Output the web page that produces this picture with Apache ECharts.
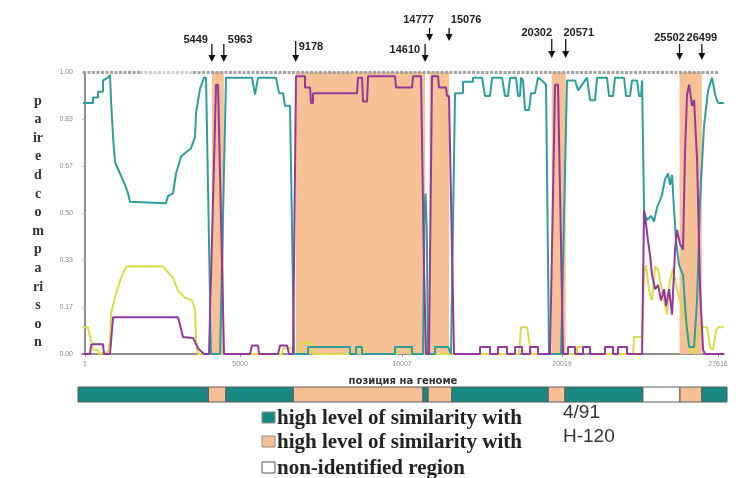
<!DOCTYPE html>
<html><head><meta charset="utf-8">
<script src="https://cdn.jsdelivr.net/npm/echarts@6/dist/echarts.min.js"></script>
<style>html,body{margin:0;padding:0;background:#fff}#c{width:754px;height:478px}</style>
</head><body><div id="c"></div>
<script>
// ---------- data ----------
const xTickPos = [0, 6659, 13618, 20492, 27193];
const xTickLabels = ['1', '5000', '10007', '20019', '27616'];

const breakpointLabels = ['5449','5963','9178','14610','14777','15076','20302','20571','25502','26499'];
const breakpointPos = [5449, 5963, 9050, 14610, 14800, 15640, 20050, 20650, 25540, 26499];

const tealData = [[-90,0.89],[344,0.89],[344,0.91],[558,0.91],[558,0.93],[773,0.93],[773,0.97],[988,0.98],[1074,0.99],[1117,0.90],[1203,0.77],[1289,0.68],[1504,0.64],[1718,0.60],[1847,0.57],[1933,0.54],[3480,0.535],[3566,0.56],[3780,0.57],[3909,0.64],[4124,0.70],[4554,0.73],[4726,0.77],[4769,0.855],[4940,0.94],[5112,0.98],[5198,0.98],[5413,0],[5800,0],[6057,0.98],[7174,0.98],[7303,0.92],[7432,0.98],[8205,0.98],[8334,0.925],[8506,0.925],[8592,0.88],[8807,0.88],[8979,0],[9580,0],[9580,0.025],[11384,0.025],[11384,0],[11642,0],[11642,0.025],[11900,0.025],[11900,0],[13318,0],[13318,0.025],[14048,0.025],[14048,0],[14520,0],[14585,0.52],[14628,0.57],[14680,0.45],[14735,0],[15036,0],[15036,0.025],[15594,0.025],[15723,0],[15766,0],[15895,0.925],[16239,0.925],[16239,0.965],[16668,0.965],[16668,0.98],[17055,0.98],[17184,0.915],[17399,0.915],[17485,0.98],[17914,0.98],[18043,0.915],[18172,0.915],[18258,0.98],[18516,0.98],[18602,0.915],[18688,0.915],[18731,0.98],[18817,0.97],[18903,0.865],[19074,0.865],[19160,0.925],[19332,0.925],[19461,0.98],[19633,0.97],[19805,0.955],[19934,0],[20449,0],[20706,0.97],[21050,0.97],[21179,0.935],[21566,0.98],[21695,0.90],[21910,0.90],[21996,0.98],[22425,0.98],[22511,0.915],[22683,0.915],[22769,0.98],[23156,0.98],[23242,0.915],[23414,0.915],[23500,0.97],[23715,0.97],[23801,0.915],[23887,0.915],[23930,0.97],[24016,0.50],[24145,0.475],[24317,0.49],[24446,0.47],[24573,0.52],[24702,0.545],[24788,0.565],[24917,0.62],[25046,0.64],[25132,0.60],[25218,0.635],[25304,0.51],[25390,0.40],[25519,0.315],[25691,0.28],[25820,0.12],[25949,0.025],[26164,0.025],[26293,0.19],[26422,0.545],[26594,0.81],[26766,0.935],[26938,0.98],[27066,0.92],[27195,0.89],[27440,0.89]];

const purpleData = [[-90,0],[215,0],[258,0.03],[344,0.035],[773,0.035],[816,0],[1074,0],[1203,0.13],[3995,0.13],[4210,0.06],[4640,0.057],[4855,0.02],[5112,0],[5327,0],[5627,0.955],[5714,0.955],[5971,0],[7088,0],[7174,0.03],[7432,0.03],[7475,0],[8291,0],[8377,0.03],[8678,0.03],[8764,0],[8936,0],[9064,0.985],[9451,0.985],[9451,0.945],[9666,0.945],[9709,0.89],[9795,0.89],[9795,0.925],[11685,0.925],[11728,0.98],[11900,0.98],[11943,0.895],[12115,0.895],[12158,0.985],[13318,0.985],[13361,0.945],[14048,0.945],[14091,0.985],[14434,0.985],[14563,0.30],[14649,0],[14777,0],[14906,0.985],[15164,0.985],[15207,0.945],[15508,0.945],[15551,0.915],[15637,0.915],[15852,0],[16969,0],[16969,0.025],[17399,0.025],[17399,0],[17742,0],[17742,0.025],[18129,0.025],[18129,0],[18473,0],[18473,0.025],[18774,0.025],[18774,0],[19117,0],[19117,0.025],[19461,0.025],[19461,0],[19977,0],[20191,0.955],[20320,0.955],[20535,0],[20750,0],[20750,0.025],[21050,0.025],[21050,0],[21394,0],[21394,0.025],[21695,0.025],[21695,0],[22339,0],[22339,0.025],[22683,0.025],[22683,0],[22898,0],[22898,0.025],[23285,0.025],[23285,0],[23930,0],[24016,0.51],[24102,0.46],[24188,0.40],[24274,0.35],[24360,0.28],[24489,0.23],[24617,0.245],[24745,0.19],[24874,0.23],[24960,0.17],[25089,0.23],[25218,0.14],[25347,0.37],[25433,0.44],[25562,0.39],[25691,0.37],[25777,0.72],[25863,0.92],[25949,0.955],[26078,0.88],[26164,0.90],[26293,0.69],[26422,0.23],[26551,0.015],[26637,0],[27440,0]];

const yellowData = [[-90,0.095],[129,0.095],[215,0.06],[344,0.015],[558,0.015],[601,0],[988,0.007],[1074,0.05],[1117,0.145],[1332,0.215],[1547,0.27],[1761,0.31],[3351,0.31],[3566,0.29],[3780,0.27],[3995,0.225],[4296,0.20],[4597,0.19],[4726,0.155],[4769,0.05],[4855,0],[8463,0],[8506,0.02],[8893,0.02],[8936,0],[9236,0],[9279,0.04],[9752,0.04],[9795,0],[11642,0],[11685,0.025],[11943,0.025],[11986,0],[13404,0],[13447,0.025],[13962,0.025],[14005,0],[18645,0],[18731,0.095],[18989,0.095],[19117,0.025],[19160,0],[21136,0],[21136,0.025],[21695,0.025],[21695,0],[23543,0],[23586,0.06],[23930,0.06],[24016,0.29],[24102,0.315],[24231,0.225],[24360,0.19],[24489,0.31],[24617,0.30],[24745,0.245],[24874,0.19],[25003,0.14],[25132,0.26],[25261,0.305],[25390,0.245],[25562,0.19],[25691,0.155],[25863,0.075],[25992,0.015],[26207,0],[26336,0.05],[26422,0.095],[26723,0.095],[26852,0.025],[26981,0.015],[27109,0.085],[27195,0.095],[27440,0.095]];

// genome bar segments: [start, end, kind] kind 0 = 4/91, 1 = H-120, 2 = non-identified
const barSegments = [[-301,5300,0],[5300,6050,1],[6050,8950,0],[8950,14520,1],[14520,14740,0],[14740,15760,1],[15760,19900,0],[19900,20620,1],[20620,23970,0],[23970,25560,2],[25560,26500,1],[26500,27580,0]];

const legendNames = ['high level of similarity with', 'high level of similarity with', 'non-identified region'];
const legendStrains = ['4/91', 'H-120', ''];
const yAxisLetters = ['p','a','ir','e','d','c','o','m','p','a','ri','s','o','n'];
const xAxisTitle = 'позиция на геноме';
const topStrip = [[-86, 2360, 0], [2360, 4640, 1], [4640, 27195, 0]];
const annotation = { pos: 10826, val: 0.965, text: '1.902 1.50', sup: '-06' };

// ---------- styles ----------
const TEAL = '#2f9e9b', PURPLE = '#93399e', YELLOW = '#d9da4c', ORANGE = '#f7c196';
const BAR_COLORS = ['#1b8783', '#f6c097', '#ffffff'];
const LEG_COLORS = ['#1b8783', '#f6c097', '#ffffff'];
const arrowStyle = [
  {ty:40, top:44, bot:62, dx:-4, align:'right'},
  {ty:40, top:44, bot:62, dx:4, align:'left'},
  {ty:47, top:41, bot:62, dx:3, align:'left'},
  {ty:50, top:44, bot:62, dx:-5, align:'right'},
  {ty:20, top:28, bot:41, dx:-11, align:'center'},
  {ty:20, top:28, bot:41, dx:17, align:'center'},
  {ty:33, top:39, bot:58, dx:-15, align:'center'},
  {ty:33, top:39, bot:58, dx:13, align:'center'},
  {ty:38, top:44, bot:60, dx:-10, align:'center'},
  {ty:38, top:44, bot:60, dx:0, align:'center'}
];

const chart = echarts.init(document.getElementById('c'), null, {renderer: 'canvas'});

const bands = [];
for (let i = 0; i < breakpointPos.length; i += 2) bands.push([{xAxis: breakpointPos[i]}, {xAxis: breakpointPos[i + 1]}]);

const stripLines = topStrip.map(s => [
  {coord: [s[0], 1], lineStyle: {color: s[2] ? '#cfcfcf' : '#a3a3a3', width: 3, type: [3, 1.5]}},
  {coord: [s[1], 1]}
]);

const lineBase = {type: 'line', showSymbol: false, symbol: 'none', animation: false, xAxisIndex: 0, yAxisIndex: 0, z: 2};

chart.setOption({
  animation: false,
  grid: [
    {left: 82, right: 30, top: 72, bottom: 124},
    {left: 78, right: 27, top: 387, height: 15}
  ],
  xAxis: [
    {type: 'value', gridIndex: 0, min: -130, max: 27450, offset: 4,
     axisLine: {show: true, lineStyle: {color: '#6a6a6a', width: 1.5}},
     axisTick: {show: true, customValues: xTickPos, length: 3, lineStyle: {color: '#999'}},
     axisLabel: {customValues: xTickPos, formatter: v => xTickLabels[xTickPos.indexOf(v)], fontSize: 7, color: '#888', margin: 3, fontFamily: 'Liberation Sans'},
     splitLine: {show: false},
     name: xAxisTitle, nameLocation: 'middle', nameGap: 18,
     nameTextStyle: {fontSize: 10, fontWeight: 'bold', color: '#333', fontFamily: 'DejaVu Sans'}},
    {type: 'value', gridIndex: 1, min: -301, max: 27580, show: false}
  ],
  yAxis: [
    {type: 'value', gridIndex: 0, min: 0, max: 1, interval: 1/6,
     axisLine: {show: true, lineStyle: {color: '#6a6a6a', width: 1.5}},
     axisTick: {show: true, length: 3, lineStyle: {color: '#bbb'}},
     axisLabel: {formatter: v => v.toFixed(2), fontSize: 7, color: '#888', margin: 9, fontFamily: 'Liberation Sans'},
     splitLine: {show: false}},
    {type: 'value', gridIndex: 1, min: 0, max: 1, show: false}
  ],
  series: [
    Object.assign({}, lineBase, {name: 'yellow', data: yellowData, lineStyle: {color: YELLOW, width: 2},
      markArea: {silent: true, itemStyle: {color: ORANGE, opacity: 1}, data: bands},
      markLine: {silent: true, symbol: 'none', label: {show: false}, data: stripLines}}),
    Object.assign({}, lineBase, {name: 'teal', data: tealData, lineStyle: {color: TEAL, width: 2}}),
    Object.assign({}, lineBase, {name: 'purple', data: purpleData, lineStyle: {color: PURPLE, width: 2}}),
    {type: 'custom', xAxisIndex: 1, yAxisIndex: 1, data: barSegments, animation: false,
     renderItem: function (params, api) {
       const s = api.coord([api.value(0), 0]);
       const e = api.coord([api.value(1), 1]);
       return {type: 'rect', shape: {x: s[0], y: e[1], width: e[0] - s[0], height: s[1] - e[1]},
               style: {fill: BAR_COLORS[api.value(2)], stroke: '#5a5a5a', lineWidth: 1}};
     }}
  ]
});

// ---------- annotations computed through the axes ----------
const g = [];
breakpointPos.forEach((p, i) => {
  const st = arrowStyle[i];
  const x = chart.convertToPixel({xAxisIndex: 0}, p);
  g.push({type: 'line', shape: {x1: x, y1: st.top, x2: x, y2: st.bot - 5}, style: {stroke: '#111', lineWidth: 1.3}, silent: true});
  g.push({type: 'polygon', shape: {points: [[x - 3.5, st.bot - 7], [x + 3.5, st.bot - 7], [x, st.bot]]}, style: {fill: '#111'}, silent: true});
  g.push({type: 'text', x: x + st.dx, y: st.ty, silent: true,
          style: {text: breakpointLabels[i], font: 'bold 11px "Liberation Sans"', fill: '#222', align: st.align, verticalAlign: 'middle'}});
});
const ap = chart.convertToPixel({xAxisIndex: 0, yAxisIndex: 0}, [annotation.pos, annotation.val]);
g.push({type: 'text', x: ap[0], y: ap[1], silent: true, style: {text: annotation.text, font: 'bold 7px "Liberation Sans"', fill: '#222', align: 'left', verticalAlign: 'middle'}});
g.push({type: 'text', x: ap[0] + 37, y: ap[1] - 4, silent: true, style: {text: annotation.sup, font: 'bold 5px "Liberation Sans"', fill: '#222', align: 'left', verticalAlign: 'middle'}});

yAxisLetters.forEach((L, i) => {
  g.push({type: 'text', x: 38, y: 101 + i * 18.6, silent: true,
          style: {text: L, font: 'bold 14px "Liberation Serif"', fill: '#333', align: 'center', verticalAlign: 'middle'}});
});

const legY = [419, 443, 469];
legendNames.forEach((n, i) => {
  g.push({type: 'rect', shape: {x: 262, y: legY[i] - 7, width: 13, height: 11}, style: {fill: LEG_COLORS[i], stroke: i === 2 ? '#555' : '#888', lineWidth: 1}, silent: true});
  g.push({type: 'text', x: 277, y: legY[i], silent: true, style: {text: n, font: 'bold 21px "Liberation Serif"', fill: '#222', align: 'left', verticalAlign: 'middle'}});
  if (legendStrains[i]) g.push({type: 'text', x: 563, y: legY[i] - 6, silent: true, style: {text: legendStrains[i], font: '19px "Liberation Sans"', fill: '#333', align: 'left', verticalAlign: 'middle'}});
});

chart.setOption({graphic: g});
</script>
</body></html>
